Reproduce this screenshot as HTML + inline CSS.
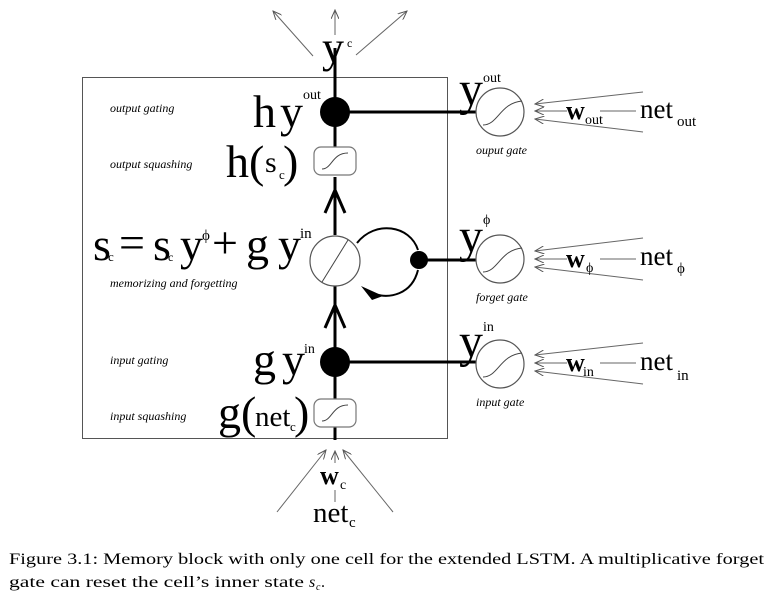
<!DOCTYPE html>
<html><head><meta charset="utf-8"><style>
html,body{margin:0;padding:0;background:#fff;width:770px;height:601px;overflow:hidden}
svg{display:block}
text{font-family:"Liberation Serif",serif;fill:#000}
.it{font-style:italic;font-size:12px}
.big{font-size:46px}
</style></head><body>
<svg width="770" height="601" viewBox="0 0 770 601" xmlns="http://www.w3.org/2000/svg">
<defs>
<marker id="ah" markerWidth="10" markerHeight="8" refX="9" refY="4" orient="auto" markerUnits="userSpaceOnUse">
<path d="M0,0 L9,4 L0,8" fill="none" stroke="#555" stroke-width="1"/></marker>
</defs>
<rect x="82.5" y="77.5" width="365" height="361" fill="none" stroke="#555" stroke-width="1"/>
<line x1="335" y1="48" x2="335" y2="147" stroke="#000" stroke-width="3"/>
<line x1="335" y1="177" x2="335" y2="235" stroke="#000" stroke-width="3"/>
<path d="M325,213 L335,190 L345,213" fill="none" stroke="#000" stroke-width="3"/>
<line x1="335" y1="285" x2="335" y2="400" stroke="#000" stroke-width="3"/>
<path d="M325,328 L335,305 L345,328" fill="none" stroke="#000" stroke-width="3"/>
<line x1="335" y1="427" x2="335" y2="440" stroke="#000" stroke-width="3"/>
<circle cx="335" cy="112" r="15" fill="#000"/>
<circle cx="335" cy="362" r="15" fill="#000"/>
<rect x="314" y="147" width="42" height="28" rx="7" fill="#fff" stroke="#777" stroke-width="1.2"/>
<path d="M322,169 C332,169 332,153 348,153" fill="none" stroke="#444"/>
<rect x="314" y="399" width="42" height="28" rx="7" fill="#fff" stroke="#777" stroke-width="1.2"/>
<path d="M322,421 C332,421 332,405 348,405" fill="none" stroke="#444"/>
<circle cx="335" cy="261" r="25" fill="#fff" stroke="#555" stroke-width="1.2"/>
<line x1="322" y1="282" x2="348" y2="240" stroke="#444"/>
<path d="M357,243 C375,220 410,225 418,250 M418,270 C412,294 390,300 371,293" fill="none" stroke="#000" stroke-width="2"/>
<path d="M361,286 L383,296 L372,300 Z" fill="#000"/>
<circle cx="419" cy="260" r="9" fill="#000"/>
<line x1="335" y1="112" x2="476" y2="112" stroke="#000" stroke-width="3"/>
<line x1="419" y1="260" x2="476" y2="260" stroke="#000" stroke-width="3"/>
<line x1="335" y1="362" x2="476" y2="362" stroke="#000" stroke-width="3"/>
<g fill="#fff" stroke="#555" stroke-width="1.2">
<circle cx="500" cy="112" r="24"/><circle cx="500" cy="259" r="24"/><circle cx="500" cy="364" r="24"/>
</g>
<g fill="none" stroke="#444">
<path d="M483,125 C498,125 500,103 522,101"/>
<path d="M483,272 C498,272 500,250 522,248"/>
<path d="M483,377 C498,377 500,355 522,353"/>
</g>
<g stroke="#666" stroke-width="1" marker-end="url(#ah)">
<line x1="643" y1="92" x2="535" y2="104"/><line x1="567" y1="111" x2="535" y2="111"/><line x1="643" y1="132" x2="535" y2="119"/>
<line x1="643" y1="238" x2="535" y2="251"/><line x1="567" y1="259" x2="535" y2="259"/><line x1="643" y1="280" x2="535" y2="267"/>
<line x1="643" y1="343" x2="535" y2="355"/><line x1="567" y1="363" x2="535" y2="363"/><line x1="643" y1="384" x2="535" y2="371"/>
<line x1="313" y1="56" x2="273" y2="11"/><line x1="335" y1="35" x2="335" y2="10"/><line x1="356" y1="55" x2="407" y2="11"/>
<line x1="277" y1="512" x2="326" y2="450"/><line x1="335" y1="463" x2="335" y2="451"/><line x1="393" y1="512" x2="343" y2="450"/>
</g>
<g stroke="#666" stroke-width="1">
<line x1="600" y1="111" x2="636" y2="111"/><line x1="600" y1="259" x2="636" y2="259"/><line x1="600" y1="363" x2="636" y2="363"/>
<line x1="335" y1="490" x2="335" y2="502"/>
</g>
<text x="459" y="105" font-size="48">y</text><text x="483" y="82" font-size="14">out</text>
<text x="459" y="252" font-size="48">y</text><text x="483" y="224" font-size="14">ϕ</text>
<text x="459" y="357" font-size="48">y</text><text x="483" y="331" font-size="14">in</text>
<text x="476" y="154" class="it">ouput gate</text>
<text x="476" y="301" class="it">forget gate</text>
<text x="476" y="406" class="it">input gate</text>
<text x="566" y="119" font-size="26" font-weight="bold">w</text><text x="585" y="124" font-size="14">out</text>
<text x="566" y="267" font-size="26" font-weight="bold">w</text><text x="586" y="272" font-size="14">ϕ</text>
<text x="566" y="371" font-size="26" font-weight="bold">w</text><text x="583" y="376" font-size="14">in</text>
<text x="640" y="118" font-size="27">net</text><text x="677" y="126" font-size="15">out</text>
<text x="640" y="265" font-size="27">net</text><text x="677" y="273" font-size="15">ϕ</text>
<text x="640" y="370" font-size="27">net</text><text x="677" y="380" font-size="15">in</text>
<text x="322" y="62" font-size="44">y</text><text x="347" y="47" font-size="12">c</text>
<text x="320" y="484" font-size="26" font-weight="bold">w</text><text x="340" y="489" font-size="14">c</text>
<text x="313" y="522" font-size="29">net</text><text x="349" y="527" font-size="15">c</text>
<text x="110" y="112" class="it">output gating</text>
<text x="110" y="168" class="it">output squashing</text>
<text x="110" y="287" class="it">memorizing and forgetting</text>
<text x="110" y="364" class="it">input gating</text>
<text x="110" y="420" class="it">input squashing</text>
<text x="253" y="127" class="big">h</text><text x="280" y="127" class="big">y</text><text x="303" y="99" font-size="14">out</text>
<text x="226" y="177" class="big">h(</text><text x="265" y="172" font-size="30">s</text><text x="279" y="179" font-size="13">c</text><text x="283" y="177" class="big">)</text>
<text x="93" y="260" class="big">s</text><text x="108" y="261" font-size="13">c</text>
<text x="119" y="258" class="big">=</text>
<text x="153" y="260" class="big">s</text><text x="168" y="261" font-size="12">c</text>
<text x="180" y="260" class="big">y</text><text x="202" y="240" font-size="15">ϕ</text>
<text x="212" y="258" class="big">+</text>
<text x="246" y="260" class="big">g</text><text x="278" y="260" class="big">y</text><text x="300" y="238" font-size="15">in</text>
<text x="253" y="375" class="big">g</text><text x="282" y="375" class="big">y</text><text x="304" y="353" font-size="14">in</text>
<text x="218" y="428" class="big">g(</text><text x="255" y="426" font-size="29">net</text><text x="290" y="431" font-size="13">c</text><text x="294" y="428" class="big">)</text>
<text x="9" y="564" font-size="16" textLength="755" lengthAdjust="spacingAndGlyphs">Figure 3.1: Memory block with only one cell for the extended LSTM. A multiplicative forget</text>
<text x="9" y="587" font-size="16" textLength="295" lengthAdjust="spacingAndGlyphs">gate can reset the cell’s inner state</text>
<text x="309" y="587" font-size="16" font-style="italic">s</text><text x="316" y="590" font-size="10" font-style="italic">c</text><text x="321" y="587" font-size="16">.</text>
</svg>
</body></html>
